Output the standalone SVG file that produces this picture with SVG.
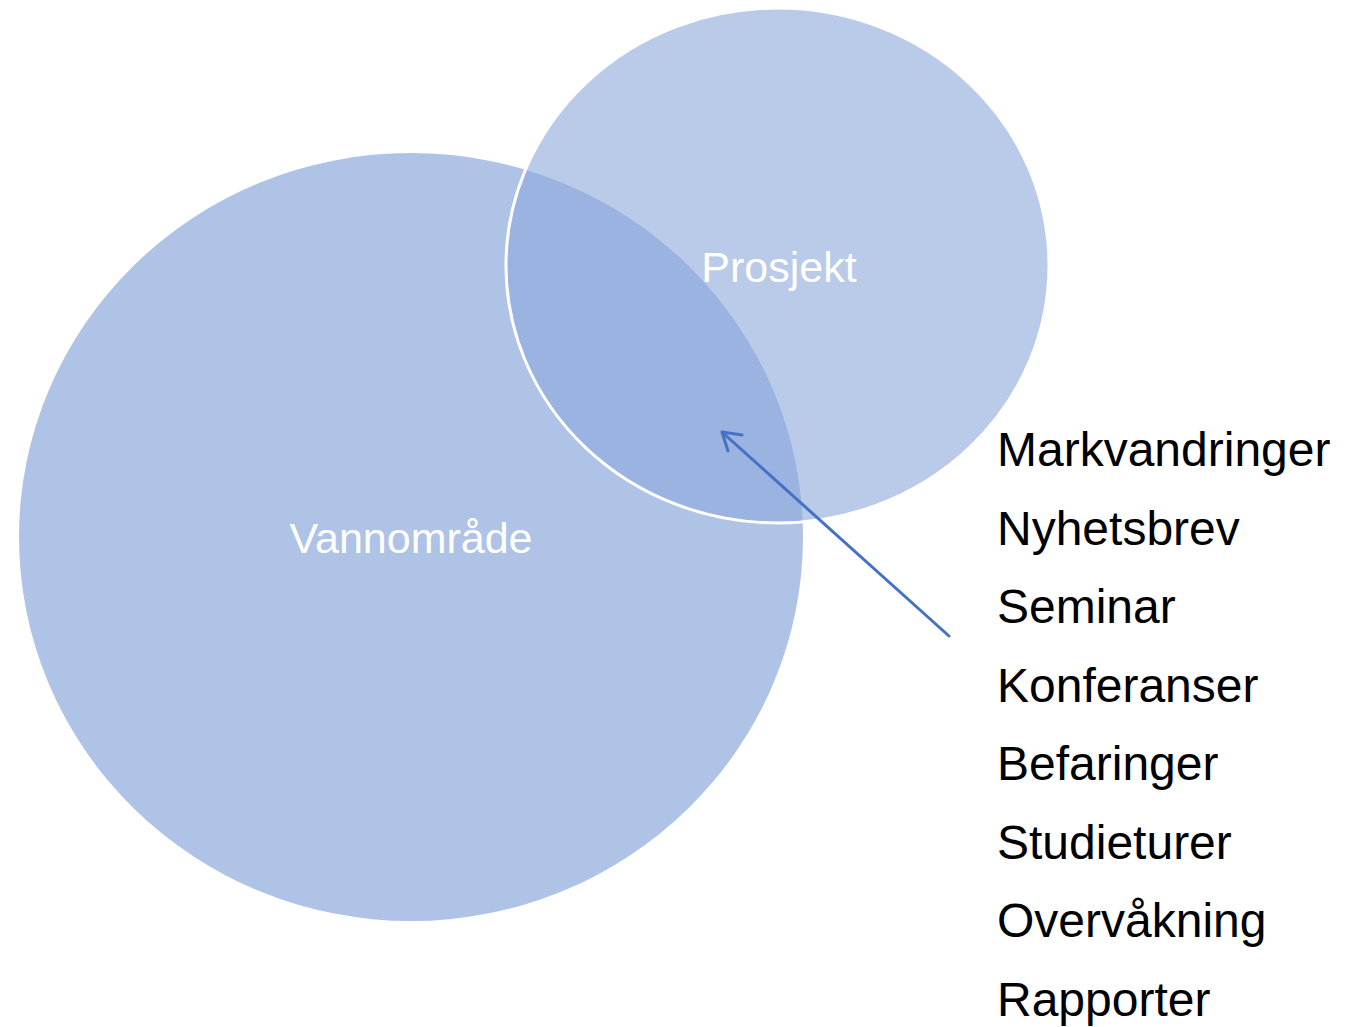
<svg xmlns="http://www.w3.org/2000/svg" width="1350" height="1027" viewBox="0 0 1350 1027">
  <style>
    .label { font-family: "Liberation Sans", Arial, sans-serif; font-size: 43px; fill: #ffffff; text-anchor: middle; }
    .item { font-family: "Liberation Sans", Arial, sans-serif; font-size: 48px; fill: #000000; }
    .conn { stroke: #4472C4; stroke-width: 3; fill: none; stroke-linecap: round; stroke-linejoin: round; }
  </style>
  <rect width="1350" height="1027" fill="#ffffff"/>
  <g id="vannomrade">
    <ellipse cx="411" cy="537" rx="392" ry="384" fill="#AFC3E6"/>
  </g>
  <g id="prosjekt">
    <ellipse cx="777.5" cy="265.5" rx="271.5" ry="257.5" fill="#8FAADC" fill-opacity="0.62" stroke="#ffffff" stroke-width="3"/>
  </g>
  <g id="labels">
    <text class="label" x="411" y="553">Vannområde</text>
    <text class="label" x="779" y="282">Prosjekt</text>
  </g>
  <g id="connectors">
    <line class="conn" x1="949" y1="636" x2="723" y2="433"/>
    <polyline class="conn" points="742,435 722,432 728,451"/>
  </g>
  <g id="list">
    <text class="item" x="997" y="466">Markvandringer</text>
    <text class="item" x="997" y="544.5">Nyhetsbrev</text>
    <text class="item" x="997" y="623">Seminar</text>
    <text class="item" x="997" y="701.5">Konferanser</text>
    <text class="item" x="997" y="780">Befaringer</text>
    <text class="item" x="997" y="858.5">Studieturer</text>
    <text class="item" x="997" y="937">Overvåkning</text>
    <text class="item" x="997" y="1015.5">Rapporter</text>
  </g>
</svg>
